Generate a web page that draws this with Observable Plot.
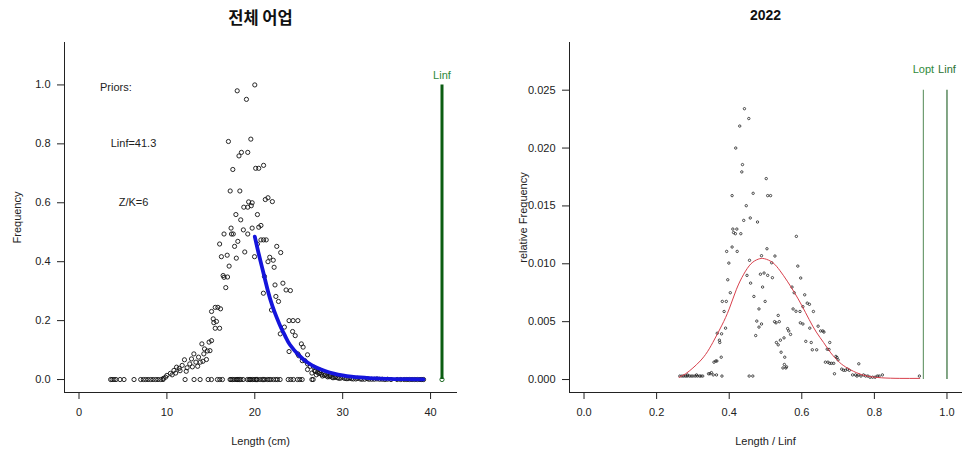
<!DOCTYPE html>
<html><head><meta charset="utf-8">
<script src="https://cdn.jsdelivr.net/npm/d3@7"></script>
<script src="https://cdn.jsdelivr.net/npm/@observablehq/plot@0.6"></script>
<style>
body{margin:0;background:#fff;}
#wrap{display:flex;width:962px;height:454px;overflow:hidden;}
svg{display:block;}
</style></head><body><div id="wrap"></div>
<script>
// ---------- Left panel: 전체 어업 ----------
const leftTitle = "전체 어업";
const leftXLabel = "Length (cm)";
const leftYLabel = "Frequency";
const leftXTicks = [0, 10, 20, 30, 40];
const leftYTicks = [0, 0.2, 0.4, 0.6, 0.8, 1.0];
// observed length-frequency points (non-zero)
const lenObs = [20.0,18.0,19.05,19.55,17.0,18.2,18.48,19.2,17.5,20.1,20.45,21.0,17.2,18.3,21.2,21.5,22.0,19.3,19.7,18.75,19.2,19.6,17.85,20.3,18.4,16.5,17.35,17.55,17.3,18.7,19.2,19.7,20.45,20.7,18.07,17.7,16.0,20.7,21.0,21.3,22.5,22.95,18.86,19.97,16.2,16.86,17.9,21.7,21.5,22.2,17.08,16.4,16.5,16.9,16.7,22.3,23.2,23.56,24.05,20.98,22.4,22.7,21.9,22.9,23.37,23.9,24.35,24.9,24.3,24.6,23.9,25.3,25.5,26.0,24.9,25.7,26.0,20.3,21.1,22.1,
  15.08,15.5,15.8,16.1,15.27,15.34,15.64,15.5,16.0,15.08,14.8,13.98,14.28,14.6,14.9,14.2,13.07,13.6,12.8,12.0,13.8,13.3,12.6,11.74,11.1,11.4,12.3,12.9,13.5,14.1,14.5,10.8,11.5,12.2,10.4,10.6,11.0,10.0,9.85,9.6,
  25.0,25.4,26.0,26.7,27.5,26.8,27.1,27.3,27.6,27.9,28.2,28.5,28.8,29.1,29.4,29.8,30.2,30.6,31.0,31.5,32.0,32.5,33.0,33.6,34.2,34.8,35.5,36.2,37.0,37.6,38.2,38.8,39.2,
  26.3,26.5,26.9,27.0,27.4,27.7,28.0,28.3,28.6,28.9,29.2,29.6,30.0,30.4,30.8,31.2,31.7,32.2,32.8,33.3,33.9,34.5,35.1,36.6,37.3,37.9,38.5,39.0];
const freqObs = [1.0,0.98,0.951,0.816,0.808,0.759,0.771,0.771,0.713,0.717,0.717,0.727,0.64,0.64,0.611,0.617,0.604,0.603,0.60,0.585,0.585,0.59,0.56,0.56,0.542,0.494,0.494,0.494,0.514,0.508,0.494,0.514,0.517,0.523,0.469,0.452,0.46,0.474,0.474,0.474,0.452,0.431,0.433,0.417,0.417,0.422,0.412,0.415,0.40,0.381,0.385,0.353,0.347,0.348,0.312,0.321,0.327,0.304,0.302,0.293,0.282,0.265,0.236,0.155,0.178,0.20,0.20,0.20,0.163,0.149,0.095,0.121,0.11,0.084,0.087,0.064,0.034,0.46,0.35,0.405,
  0.231,0.245,0.245,0.240,0.206,0.193,0.197,0.174,0.174,0.132,0.127,0.121,0.104,0.097,0.098,0.087,0.087,0.076,0.070,0.067,0.059,0.059,0.053,0.048,0.042,0.038,0.040,0.043,0.045,0.062,0.068,0.031,0.030,0.028,0.021,0.016,0.022,0.014,0.008,0.004,
  0.081,0.064,0.053,0.042,0.031,0.03,0.025,0.02,0.018,0.014,0.012,0.01,0.008,0.007,0.006,0.005,0.004,0.003,0.003,0.002,0.002,0.001,0.001,0.001,0.001,0,0,0,0,0,0,0,0,
  0.045,0.022,0.028,0.016,0.024,0.012,0.016,0.009,0.013,0.006,0.010,0.004,0.008,0.003,0.006,0.002,0.004,0.001,0.003,0.001,0.002,0.001,0.001,0,0,0,0,0];
// lengths observed with zero frequency
const lenZero = [3.6,3.76,3.98,4.21,4.67,5.12,6.26,7.02,7.32,7.59,7.86,8.16,8.43,8.73,8.99,9.3,9.56,12.07,13.09,13.78,14.69,15.07,15.75,16.02,16.32,17.19,17.3,17.46,17.65,17.87,18.0,18.1,18.25,18.41,18.67,19.16,19.35,19.45,19.54,19.73,19.92,20.11,20.2,20.3,20.61,20.87,21.0,21.14,21.44,21.63,21.82,22.12,22.39,22.58,22.88,23.8,24.1,24.4,24.86,25.12,25.39,26.5,26.64];
const freqZero = lenZero.map(() => 0);
// fitted catch curve (blue)
const fitLen = [20.0,20.5,21,21.5,22,22.5,23,23.5,24,25,26,27,28,29,30,31,32,33,34,35,36,37,38,39.2];
const fitFreq = [0.485,0.42,0.36,0.30,0.25,0.21,0.175,0.145,0.118,0.083,0.058,0.041,0.029,0.020,0.014,0.0099,0.007,0.005,0.0035,0.0024,0.0017,0.0012,0.0009,0.0006];
const linfLen = [41.3];
const linfTop = [1.0];
const priorText = ["Priors:", "Linf=41.3", "Z/K=6"];
const priorX = [4.2, 6.2, 6.2];
const priorY = [0.99, 0.8, 0.6];

// ---------- Right panel: 2022 ----------
const rightTitle = "2022";
const rightXLabel = "Length / Linf";
const rightYLabel = "relative Frequency";
const rightXTicks = [0, 0.2, 0.4, 0.6, 0.8, 1.0];
const rightYTicks = [0, 0.005, 0.010, 0.015, 0.020, 0.025];
const relLen = [0.442,0.454,0.429,0.418,0.4366,0.4347,0.502,0.408,0.466,0.506,0.514,0.447,0.458,0.44,0.478,0.410,0.421,0.412,0.417,0.432,0.585,0.408,0.393,0.422,0.504,0.526,0.456,0.399,0.517,0.489,0.589,0.449,0.486,0.496,0.506,0.519,0.597,0.396,0.459,0.492,0.573,0.403,0.579,0.468,0.608,0.381,0.392,0.499,0.615,0.621,0.603,0.576,0.584,0.386,0.482,0.595,0.632,0.535,0.525,0.529,0.538,0.476,0.489,0.482,0.596,0.603,0.367,0.379,0.390,0.561,0.564,0.569,0.622,0.645,0.652,0.658,0.661,0.473,0.551,0.373,0.374,0.530,0.535,0.611,0.626,0.541,0.677,0.629,0.641,0.670,0.675,0.543,0.553,0.378,0.363,0.358,0.366,0.665,0.672,0.677,0.682,0.688,0.694,0.697,0.700,0.548,0.556,0.558,0.552,0.757,0.710,0.715,0.720,0.726,0.731,0.690,
  0.264,0.270,0.275,0.280,0.284,0.290,0.295,0.300,0.306,0.312,0.318,0.322,0.327,0.285,0.31,0.343,0.347,0.351,0.356,0.365,0.380,0.455,0.465,0.740,0.748,0.752,0.757,0.763,0.770,0.776,0.782,0.788,0.795,0.802,0.808,0.813,0.822,0.924];
const relFreq = [0.0234,0.02255,0.0219,0.0200,0.01857,0.01794,0.01736,0.01589,0.01609,0.01589,0.01589,0.01502,0.01396,0.01375,0.01361,0.0130,0.0130,0.0127,0.0126,0.0126,0.01237,0.01145,0.01107,0.01107,0.0113,0.01067,0.0103,0.01006,0.01009,0.0107,0.0098,0.0090,0.0091,0.0092,0.0090,0.0088,0.00877,0.00862,0.00833,0.00799,0.00799,0.0075,0.0075,0.00718,0.00732,0.00675,0.00675,0.00675,0.0066,0.0065,0.0063,0.0061,0.0059,0.00588,0.0061,0.00588,0.00588,0.00554,0.0050,0.0049,0.0050,0.00505,0.0048,0.00453,0.0049,0.0048,0.0040,0.00395,0.00444,0.0044,0.0042,0.0039,0.00444,0.00461,0.0042,0.0042,0.0041,0.0038,0.0036,0.0034,0.0032,0.0032,0.0030,0.0033,0.0032,0.0034,0.0032,0.00257,0.00257,0.00262,0.0026,0.00236,0.00193,0.00193,0.0016,0.0015,0.0016,0.0015,0.0015,0.0014,0.0014,0.0014,0.0020,0.0019,0.0017,0.0010,0.0010,0.0011,0.0013,0.00136,0.0009,0.0008,0.0008,0.0009,0.0008,0.0005,
  0.0003,0.0003,0.0003,0.0003,0.0003,0.0003,0.0003,0.0003,0.0003,0.0003,0.0003,0.0003,0.0003,0.0004,0.0004,0.0005,0.0005,0.0006,0.0004,0.0004,0.0003,0.0003,0.0003,0.0004,0.0004,0.0003,0.0004,0.0003,0.0004,0.0003,0.0003,0.0002,0.0002,0.0002,0.0003,0.0003,0.0004,0.0003];
const curveX = [0.262,0.28,0.30,0.32,0.34,0.36,0.38,0.40,0.42,0.44,0.46,0.48,0.497,0.52,0.54,0.56,0.58,0.60,0.62,0.64,0.66,0.68,0.70,0.72,0.75,0.78,0.82,0.87,0.925];
const curveY = [0.0002,0.0005,0.0010,0.0016,0.0024,0.0035,0.0047,0.0061,0.0078,0.0091,0.0100,0.0104,0.01044,0.0101,0.0094,0.0085,0.0075,0.0064,0.0052,0.0041,0.0032,0.0023,0.0016,0.0011,0.0006,0.0003,0.00015,0.0001,0.0001];
const refNames = ["Lopt", "Linf"];
const refX = [0.935, 1.0];
const refTop = [0.025, 0.025];
const refLineColors = ["#6f9c72", "#2f6b35"];
const refTextColors = ["#2f8a3a", "#2c7232"];

const FONT = "'Liberation Sans', Arial, Helvetica, sans-serif";
const INK = "#222";

const leftObs = lenObs.map((x, i) => ({x, y: freqObs[i]}))
  .concat(lenZero.map((x, i) => ({x, y: freqZero[i]})));
const leftFit = fitLen.map((x, i) => ({x, y: fitFreq[i]}));
const priors = priorText.map((t, i) => ({t, x: priorX[i], y: priorY[i]}));
const linf = linfLen.map((x, i) => ({x, top: linfTop[i]}));

const left = Plot.plot({
  width: 481, height: 454,
  marginLeft: 64, marginRight: 25, marginTop: 42, marginBottom: 62,
  style: {fontFamily: FONT, fontSize: "11px", color: INK, background: "#fff", overflow: "visible"},
  x: {domain: [-1.65, 42.95], ticks: leftXTicks, tickFormat: d3.format("d"), tickSize: 7, tickPadding: 9, line: true, label: null},
  y: {domain: [-0.044, 1.144], ticks: leftYTicks, tickFormat: d3.format(".1f"), tickSize: 7, tickPadding: 7, line: true, label: null},
  marks: [
    Plot.dot(leftObs, {x: "x", y: "y", r: 2.1, stroke: "#111", strokeWidth: 0.9, fill: "none"}),
    Plot.line(leftFit, {x: "x", y: "y", stroke: "#1414dc", strokeWidth: 3.8, curve: "natural"}),
    Plot.ruleX(linf, {x: "x", y1: () => 0, y2: "top", stroke: "#0b5d12", strokeWidth: 3}),
    Plot.dot(linf, {x: "x", y: () => 0, r: 2.1, stroke: "#0b5d12", fill: "none", strokeWidth: 0.9}),
    Plot.text(linf, {x: "x", y: "top", text: () => "Linf", dy: -9, fill: "#2f8a3a", fontSize: 11}),
    Plot.text(priors, {x: "x", y: "y", text: "t", fill: INK, fontSize: 11}),
    Plot.text([leftTitle], {frameAnchor: "top", text: d => d, dy: -24, lineAnchor: "middle", fontSize: 16.5, fontWeight: "bold", fill: "#111", fontFamily: "'Noto Sans CJK KR', sans-serif"}),
    Plot.text([leftXLabel], {frameAnchor: "bottom", text: d => d, dy: 49, lineAnchor: "middle", fontSize: 11, fill: INK}),
    Plot.text([leftYLabel], {frameAnchor: "left", text: d => d, dx: -47, rotate: -90, textAnchor: "middle", lineAnchor: "middle", fontSize: 11, fill: INK})
  ]
});

const rightObs = relLen.map((x, i) => ({x, y: relFreq[i]}));
const rightCurve = curveX.map((x, i) => ({x, y: curveY[i]}));
const refs = refNames.map((n, i) => ({n, x: refX[i], top: refTop[i], lc: refLineColors[i], tc: refTextColors[i]}));

const right = Plot.plot({
  width: 481, height: 454,
  marginLeft: 88, marginRight: 1, marginTop: 42, marginBottom: 62,
  style: {fontFamily: FONT, fontSize: "11px", color: INK, background: "#fff", overflow: "visible"},
  x: {domain: [-0.04, 1.04], ticks: rightXTicks, tickFormat: d3.format(".1f"), tickSize: 7, tickPadding: 9, line: true, label: null},
  y: {domain: [-0.00112, 0.02912], ticks: rightYTicks, tickFormat: d3.format(".3f"), tickSize: 7, tickPadding: 7, line: true, label: null},
  marks: [
    Plot.dot(rightObs, {x: "x", y: "y", r: 1.2, stroke: "#222", strokeWidth: 0.8, fill: "none"}),
    Plot.line(rightCurve, {x: "x", y: "y", stroke: "#d8404c", strokeWidth: 1, curve: "natural"}),
    Plot.ruleX(refs, {x: "x", y1: () => 0, y2: "top", stroke: "lc", strokeWidth: 1.2}),
    Plot.text(refs, {x: "x", y: "top", text: "n", dy: -21, fill: "tc", fontSize: 11}),
    Plot.text([rightTitle], {frameAnchor: "top", text: d => d, dy: -27, lineAnchor: "middle", fontSize: 14, fontWeight: "bold", fill: "#111"}),
    Plot.text([rightXLabel], {frameAnchor: "bottom", text: d => d, dy: 49, lineAnchor: "middle", fontSize: 11, fill: INK}),
    Plot.text([rightYLabel], {frameAnchor: "left", text: d => d, dx: -46, rotate: -90, textAnchor: "middle", lineAnchor: "middle", fontSize: 11, fill: INK})
  ]
});

document.getElementById("wrap").append(left, right);
</script></body></html>
